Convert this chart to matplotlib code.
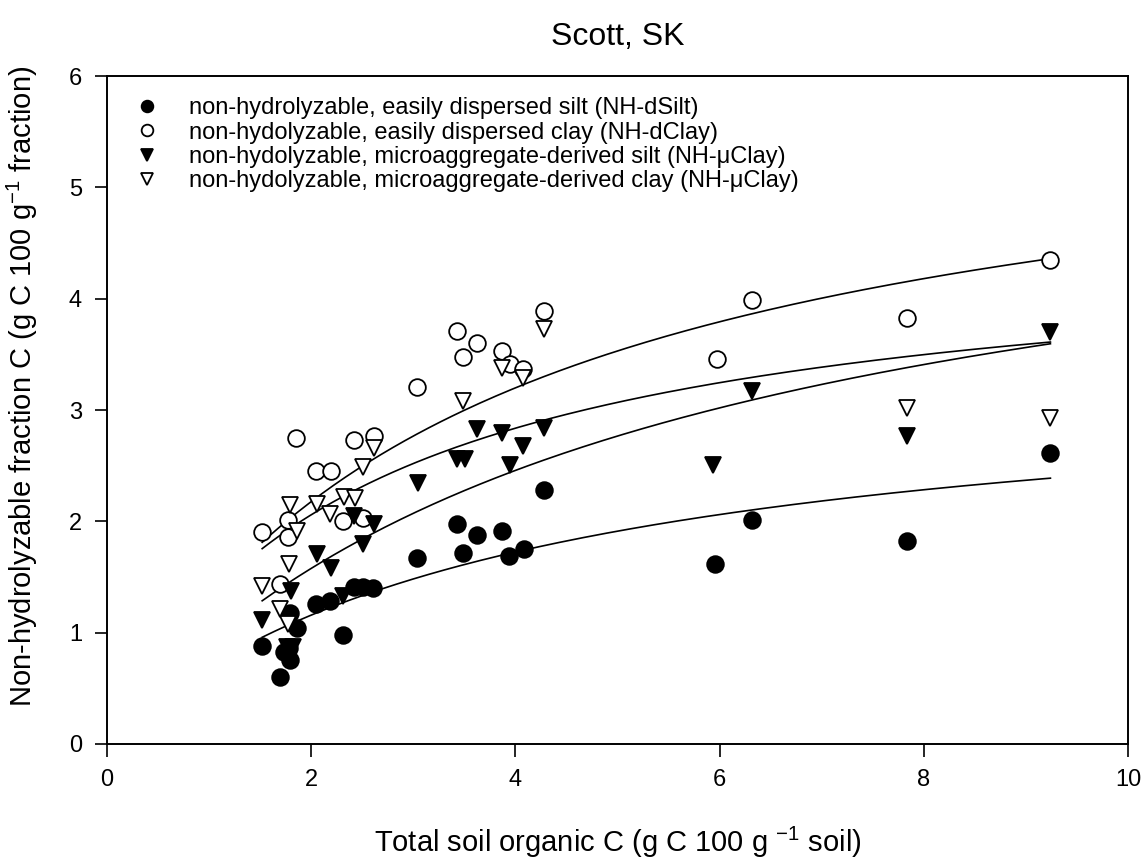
import numpy as np
from matplotlib import pyplot as plt

plt.rcParams['font.family'] = ['Liberation Sans', 'DejaVu Sans']
plt.rcParams['mathtext.default'] = 'regular'

# Donnees (g C / 100 g)
silt_d_x = [1.52, 1.69, 1.73, 1.79, 1.78, 1.79, 1.86, 2.05, 2.18, 2.31, 2.42,
            2.51, 2.61, 3.04, 3.43, 3.49, 3.62, 3.87, 3.94, 4.08, 4.28, 5.95,
            6.32, 7.84, 9.24]
silt_d_y = [0.88, 0.60, 0.83, 0.75, 0.86, 1.18, 1.04, 1.26, 1.28, 0.98, 1.41,
            1.41, 1.40, 1.67, 1.98, 1.72, 1.88, 1.91, 1.69, 1.75, 2.28, 1.62,
            2.01, 1.82, 2.61]

clay_d_x = [1.52, 1.69, 1.77, 1.77, 1.85, 2.05, 2.19, 2.31, 2.42, 2.51, 2.62,
            3.04, 3.43, 3.49, 3.62, 3.87, 3.95, 4.07, 4.28, 5.97, 6.32, 7.84,
            9.24]
clay_d_y = [1.90, 1.44, 2.01, 1.86, 2.75, 2.45, 2.45, 2.00, 2.73, 2.03, 2.77,
            3.21, 3.71, 3.48, 3.60, 3.53, 3.41, 3.37, 3.89, 3.46, 3.99, 3.83,
            4.35]

silt_u_x = [1.52, 1.76, 1.82, 1.80, 2.06, 2.19, 2.31, 2.42, 2.51, 2.62, 3.05,
            3.43, 3.51, 3.62, 3.87, 3.95, 4.07, 4.28, 5.94, 6.32, 7.84, 9.24]
silt_u_y = [1.11, 0.87, 0.87, 1.37, 1.71, 1.58, 1.33, 2.05, 1.80, 1.98, 2.34,
            2.56, 2.56, 2.83, 2.79, 2.51, 2.68, 2.84, 2.51, 3.17, 2.77, 3.70]

clay_u_x = [1.52, 1.69, 1.77, 1.78, 1.79, 1.86, 2.06, 2.18, 2.32, 2.43, 2.51,
            2.62, 3.49, 3.87, 4.07, 4.28, 7.84, 9.24]
clay_u_y = [1.42, 1.21, 1.08, 1.62, 2.15, 1.91, 2.16, 2.07, 2.22, 2.21, 2.49,
            2.66, 3.08, 3.38, 3.29, 3.73, 3.02, 2.93]

# Parametres des ajustements hyperboliques y = a*x/(b+x)
fit_silt_d = [3.38, 3.84]
fit_clay_d = [6.03, 3.54]
fit_silt_u = [5.56, 5.05]
fit_clay_u = [4.56, 2.43]

labels = [
    "non-hydrolyzable, easily dispersed silt (NH-dSilt)",
    "non-hydolyzable, easily dispersed clay (NH-dClay)",
    "non-hydolyzable, microaggregate-derived silt (NH-\u03bcClay)",
    "non-hydolyzable, microaggregate-derived clay (NH-\u03bcClay)",
]


def main() -> int:
    fig = plt.figure(figsize=(11.43, 8.61), dpi=100)
    ax = fig.add_axes([0.0936, 0.1359, 0.8933, 0.7758])

    series = [
        (silt_d_x, silt_d_y, 'o', 'black', fit_silt_d),
        (clay_d_x, clay_d_y, 'o', 'white', fit_clay_d),
        (silt_u_x, silt_u_y, 'v', 'black', fit_silt_u),
        (clay_u_x, clay_u_y, 'v', 'white', fit_clay_u),
    ]

    # courbes d'ajustement
    for xs, ys, m, fc, (a, b) in series:
        xx = np.linspace(min(xs), max(xs), 200)
        ax.plot(xx, a * xx / (b + xx), color='black', lw=1.2, zorder=2)

    # points
    for (xs, ys, m, fc, fit), lab in zip(series, labels):
        ax.plot(xs, ys, marker=m, linestyle='None', ms=12,
                markerfacecolor=fc, markeredgecolor='black',
                markeredgewidth=1.3, label=lab, zorder=3)

    ax.set_xlim(0, 10)
    ax.set_ylim(0, 6)
    ax.set_xticks([0, 2, 4, 6, 8, 10])
    ax.set_yticks([0, 1, 2, 3, 4, 5, 6])
    ax.tick_params(direction='out', length=9, width=1.2, labelsize=17,
                   pad=9)
    for s in ax.spines.values():
        s.set_linewidth(1.4)

    ax.set_title("Scott, SK", fontsize=23, pad=22)
    ax.set_xlabel("Total soil organic C (g C 100 g $^{-1}$ soil)",
                  fontsize=21, labelpad=24)
    ax.set_ylabel("Non-hydrolyzable fraction C (g C 100 g$^{-1}$ fraction)",
                  fontsize=21)
    ax.yaxis.set_label_coords(-0.066, 0.535)

    ax.legend(loc='upper left', bbox_to_anchor=(0.006, 1.0),
              frameon=False, fontsize=17, handlelength=1.1,
              handletextpad=1.2, labelspacing=0.1, markerscale=0.7)

    fig.savefig("out.png", dpi=100)
    return 0


if __name__ == "__main__":
    main()
